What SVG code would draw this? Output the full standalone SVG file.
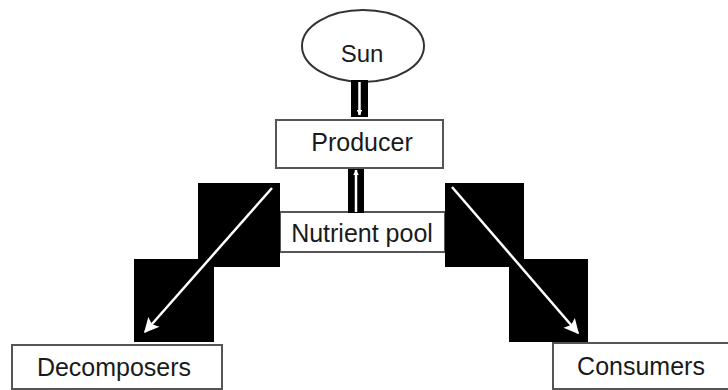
<svg xmlns="http://www.w3.org/2000/svg" width="728" height="390" viewBox="0 0 728 390">
<style>
.box{fill:#fff;stroke:#555;stroke-width:2}
.lbl{font-family:"Liberation Sans",Arial,sans-serif;font-size:25px;fill:#1a1a1a;text-anchor:middle}
.blk{fill:#000}
.wl{stroke:#fff;stroke-width:2.5;fill:none}
</style>
<defs>
<marker id="ah" viewBox="0 0 10 10" refX="9" refY="5" markerWidth="7" markerHeight="5.5" orient="auto" markerUnits="userSpaceOnUse">
<path d="M0,0 L10,5 L0,10 Z" fill="#fff"/>
</marker>
<marker id="ahBig" viewBox="0 0 10 10" refX="9" refY="5" markerWidth="22" markerHeight="15" orient="auto" markerUnits="userSpaceOnUse">
<path d="M0,0 L10,5 L0,10 L2,5 Z" fill="#fff"/>
</marker>
</defs>
<g id="sun">
<ellipse cx="363" cy="46" rx="61" ry="36" fill="#fff" stroke="#333" stroke-width="2"/>
<text class="lbl" x="362" y="62" style="font-size:24px">Sun</text>
</g>
<g id="producer">
<rect class="box" x="276" y="120" width="167" height="48"/>
<text class="lbl" x="362" y="151">Producer</text>
</g>
<g id="nutrient-pool">
<rect class="box" x="280" y="212" width="165" height="40"/>
<text class="lbl" x="362" y="242">Nutrient pool</text>
</g>
<g id="decomposers">
<rect class="box" x="12" y="345" width="210" height="44"/>
<text class="lbl" x="114" y="376">Decomposers</text>
</g>
<g id="consumers">
<rect class="box" x="553" y="343" width="180" height="46"/>
<text class="lbl" x="641" y="375">Consumers</text>
</g>
<g id="connectors">
<rect class="blk" x="351" y="80" width="17" height="37"/>
<line class="wl" x1="359.5" y1="82" x2="359.5" y2="115" marker-end="url(#ah)"/>
<rect class="blk" x="348" y="169" width="16" height="44"/>
<line class="wl" x1="356" y1="212" x2="356" y2="170" marker-end="url(#ah)"/>
<rect class="blk" x="198" y="183" width="82" height="84"/>
<rect class="blk" x="134" y="259" width="80" height="83"/>
<rect class="blk" x="445" y="183" width="79" height="84"/>
<rect class="blk" x="509" y="259" width="79" height="83"/>
<line class="wl" x1="272" y1="188" x2="145" y2="332" marker-end="url(#ahBig)"/>
<line class="wl" x1="452" y1="187" x2="578" y2="333" marker-end="url(#ahBig)"/>
</g>
</svg>
